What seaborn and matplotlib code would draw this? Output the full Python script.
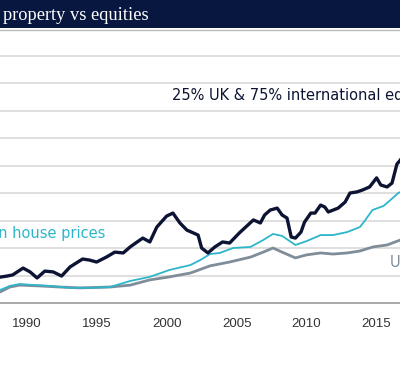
import matplotlib
matplotlib.use("Agg")
import matplotlib.pyplot as plt
import seaborn as sns
import pandas as pd
from matplotlib.patches import Rectangle
from matplotlib.lines import Line2D

# ---- data (index values) ----
eq_years = [1988.1, 1988.6, 1989.0, 1989.75, 1990.25, 1990.75, 1991.3, 1991.9, 1992.5, 1993.1,
            1994.0, 1994.5, 1995.0, 1995.7, 1996.3, 1996.9, 1997.4, 1997.9, 1998.3, 1998.8,
            1999.3, 2000.0, 2000.45, 2000.95, 2001.45, 2001.9, 2002.25, 2002.5, 2002.95, 2003.45,
            2004.0, 2004.5, 2005.2, 2006.2, 2006.7, 2007.0, 2007.4, 2007.9, 2008.25, 2008.6,
            2008.9, 2009.2, 2009.6, 2009.85, 2010.3, 2010.6, 2011.0, 2011.3, 2011.55, 2011.9,
            2012.25, 2012.75, 2013.1, 2013.6, 2014.0, 2014.5, 2015.0, 2015.3, 2015.75, 2016.1,
            2016.45, 2016.7, 2016.9]
eq_values = [94, 98, 102, 127, 113, 91, 116, 113, 98, 131,
             160, 156, 149, 167, 185, 182, 204, 222, 236, 222,
             276, 316, 327, 291, 265, 255, 247, 200, 182, 204,
             222, 218, 255, 302, 291, 320, 338, 345, 320, 309,
             240, 236, 258, 294, 327, 327, 356, 349, 331, 338,
             345, 367, 400, 404, 411, 422, 455, 429, 422, 436,
             505, 520, 538]

london_years = [1988.1, 1988.8, 1989.5, 1990.6, 1991.7, 1993.1, 1994.5, 1995.95, 1997.4, 1998.8,
                2000.2, 2001.7, 2002.4, 2003.1, 2003.8, 2004.75, 2006.0, 2006.9, 2007.6, 2008.25,
                2009.2, 2010.0, 2011.0, 2011.9, 2012.9, 2013.8, 2014.1, 2014.7, 2015.5, 2016.0,
                2016.55, 2016.8]
london_values = [47, 62, 69, 65, 62, 55, 55, 58, 80, 95,
                 120, 138, 156, 178, 182, 200, 204, 229, 251, 244,
                 211, 225, 247, 247, 258, 276, 295, 338, 353, 375,
                 400, 406]

uk_years = [1988.1, 1988.8, 1989.5, 1990.95, 1992.4, 1993.8, 1995.95, 1997.4, 1998.8, 2000.2,
            2001.7, 2003.1, 2004.5, 2006.0, 2006.9, 2007.6, 2008.25, 2009.2, 2010.0, 2011.0,
            2011.9, 2012.9, 2013.8, 2014.75, 2015.75, 2016.8]
uk_values = [40, 58, 65, 62, 58, 55, 58, 65, 84, 95,
             109, 135, 149, 167, 185, 200, 185, 164, 175, 182,
             178, 182, 189, 204, 211, 231]

x_ticks = [1990, 1995, 2000, 2005, 2010, 2015]
x_tick_labels = ["1990", "1995", "2000", "2005", "2010", "2015"]
title_text = "property vs equities"
eq_label = "25% UK & 75% international equities"
london_label = "London house prices"
uk_label = "UK house prices"

NAVY = "#07173f"
EQ_C = "#0d1433"
TEAL = "#2db6c9"
GREY = "#7f8d99"

sns.set_style("white")
plt.rcParams['font.family'] = ['Liberation Sans', 'DejaVu Sans']

W, H = 400, 371
fig = plt.figure(figsize=(W / 100, H / 100), dpi=100)
ax_bottom_px, ax_top_px = 303, 30
ax = fig.add_axes([0, 1 - ax_bottom_px / H, 1, (ax_bottom_px - ax_top_px) / H])

eq_df = pd.DataFrame({"year": eq_years, "value": eq_values})
lon_df = pd.DataFrame({"year": london_years, "value": london_values})
uk_df = pd.DataFrame({"year": uk_years, "value": uk_values})

sns.lineplot(data=uk_df, x="year", y="value", ax=ax, color=GREY, lw=2.0, zorder=3)
sns.lineplot(data=lon_df, x="year", y="value", ax=ax, color=TEAL, lw=1.3, zorder=4)
sns.lineplot(data=eq_df, x="year", y="value", ax=ax, color=EQ_C, lw=2.4, zorder=5)

ax.set_xlim(1988.1, 1988.1 + 400 / 14)
ax.set_ylim(0, (ax_bottom_px - ax_top_px) / 27.5 * 100)
ax.set_yticks(range(100, 1000, 100))
ax.set_yticklabels([])
ax.tick_params(axis='y', length=0)
ax.yaxis.grid(True, color="#d9d9d9", lw=1.2)
ax.xaxis.grid(False)
ax.set_axisbelow(True)
ax.set_xticks(x_ticks)
ax.set_xticklabels(x_tick_labels, fontsize=9.5, color="#333333")
ax.tick_params(axis='x', length=4, width=1, color="#999999", direction='out', pad=7)
ax.set_xlabel("")
ax.set_ylabel("")
for s in ["top", "left", "right"]:
    ax.spines[s].set_visible(False)
ax.spines["bottom"].set_color("#999999")
ax.spines["bottom"].set_linewidth(1.2)

lab_font = ['DejaVu Sans']
ax.text(2000.4, 753, eq_label, fontsize=10.5, color=EQ_C, ha='left', va='center',
        clip_on=False, family=lab_font)
ax.text(1995.6, 251, london_label, fontsize=10.5, color=TEAL, ha='right', va='center',
        clip_on=False, family=lab_font)
ax.text(2015.96, 149, uk_label, fontsize=10.5, color=GREY, ha='left', va='center',
        clip_on=False, family=lab_font)

# header band
fig.patches.append(Rectangle((0, 1 - 28 / H), 1, 28 / H, transform=fig.transFigure,
                             facecolor=NAVY, edgecolor='none', zorder=0))
fig.lines.append(Line2D([0, 1], [1 - 29.5 / H, 1 - 29.5 / H], transform=fig.transFigure,
                        color="#bbbbbb", lw=1))
fig.text(3 / W, 1 - 15 / H, title_text, fontsize=13.2, color="white", ha='left', va='center',
         family=['Liberation Serif', 'DejaVu Serif'])

fig.savefig("out.png", dpi=100)
